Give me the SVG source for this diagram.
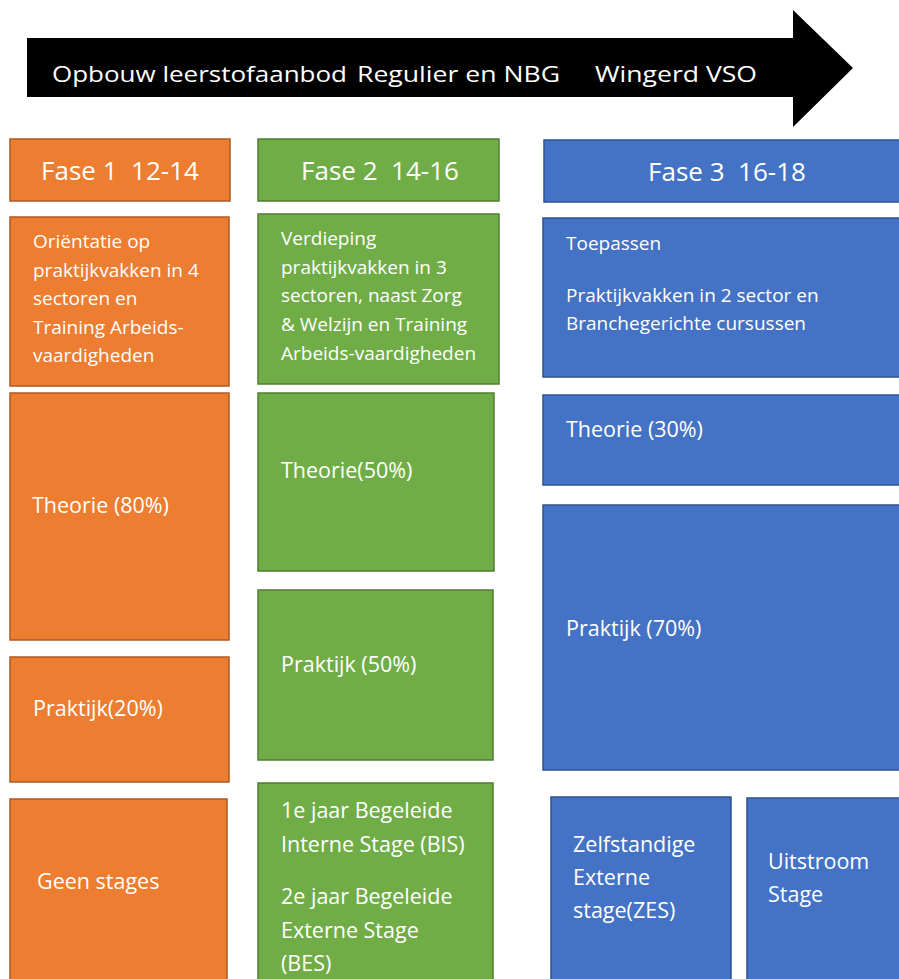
<svg xmlns="http://www.w3.org/2000/svg" width="899" height="979" viewBox="0 0 899 979">
<style>
text{font-family:"Open Sans","Liberation Sans",sans-serif;fill:#fff;white-space:pre}
.o{fill:#ED7D31;stroke:#AE5A21;stroke-width:1.5}
.g{fill:#70AD47;stroke:#507E32;stroke-width:1.5}
.b{fill:#4472C4;stroke:#2F528F;stroke-width:1.5}
.h{font-size:26px;text-anchor:middle}
.s{font-size:19px}
.m{font-size:21.5px}
.l{font-size:21.5px}
</style>
<rect width="899" height="979" fill="#fff"/>
<g id="arrow">
<polygon points="27,38 793,38 793,10 853,68 793,127 793,97 27,97" fill="#000"/>
<text x="52" y="82" font-size="22" textLength="295" lengthAdjust="spacingAndGlyphs">Opbouw leerstofaanbod</text>
<text x="357" y="82" font-size="22" textLength="203" lengthAdjust="spacingAndGlyphs">Regulier en NBG</text>
<text x="595" y="82" font-size="22" textLength="162" lengthAdjust="spacingAndGlyphs">Wingerd VSO</text>
</g>
<g id="fase1">
<rect class="o" x="10" y="139" width="220" height="62"/>
<text class="h" x="120" y="180" xml:space="preserve">Fase 1  12-14</text>
</g>
<g id="fase1-orientatie">
<rect class="o" x="10" y="217" width="219" height="169"/>
<text class="s" x="33" y="248">Oriëntatie op</text>
<text class="s" x="33" y="277">praktijkvakken in 4</text>
<text class="s" x="33" y="305">sectoren en</text>
<text class="s" x="33" y="334">Training Arbeids-</text>
<text class="s" x="33" y="362">vaardigheden</text>
</g>
<g id="fase1-theorie">
<rect class="o" x="10" y="393" width="219" height="247"/>
<text class="m" x="32" y="513">Theorie (80%)</text>
</g>
<g id="fase1-praktijk">
<rect class="o" x="10" y="657" width="219" height="125"/>
<text class="m" x="33" y="716">Praktijk(20%)</text>
</g>
<g id="fase1-stages">
<rect class="o" x="10" y="799" width="217" height="185"/>
<text class="m" x="37" y="889">Geen stages</text>
</g>
<g id="fase2">
<rect class="g" x="258" y="139" width="241" height="62"/>
<text class="h" x="380" y="180" xml:space="preserve">Fase 2  14-16</text>
</g>
<g id="fase2-verdieping">
<rect class="g" x="258" y="214" width="241" height="170"/>
<text class="s" x="281" y="245">Verdieping</text>
<text class="s" x="281" y="274">praktijkvakken in 3</text>
<text class="s" x="281" y="302">sectoren, naast Zorg</text>
<text class="s" x="281" y="331">&amp; Welzijn en Training</text>
<text class="s" x="281" y="360">Arbeids-vaardigheden</text>
</g>
<g id="fase2-theorie">
<rect class="g" x="258" y="393" width="236" height="178"/>
<text class="m" x="281" y="478">Theorie(50%)</text>
</g>
<g id="fase2-praktijk">
<rect class="g" x="258" y="590" width="235" height="170"/>
<text class="m" x="281" y="672">Praktijk (50%)</text>
</g>
<g id="fase2-stages">
<rect class="g" x="258" y="783" width="235" height="200"/>
<text class="l" x="281" y="818">1e jaar Begeleide</text>
<text class="l" x="281" y="852">Interne Stage (BIS)</text>
<text class="l" x="281" y="904">2e jaar Begeleide</text>
<text class="l" x="281" y="938">Externe Stage</text>
<text class="l" x="281" y="971">(BES)</text>
</g>
<g id="fase3">
<rect class="b" x="544" y="140" width="360" height="62"/>
<text class="h" x="727" y="181" xml:space="preserve">Fase 3  16-18</text>
</g>
<g id="fase3-toepassen">
<rect class="b" x="543" y="218" width="361" height="159"/>
<text class="s" x="566" y="250">Toepassen</text>
<text class="s" x="566" y="302">Praktijkvakken in 2 sector en</text>
<text class="s" x="566" y="330">Branchegerichte cursussen</text>
</g>
<g id="fase3-theorie">
<rect class="b" x="543" y="395" width="361" height="90"/>
<text class="m" x="566" y="437">Theorie (30%)</text>
</g>
<g id="fase3-praktijk">
<rect class="b" x="543" y="505" width="361" height="265"/>
<text class="m" x="566" y="636">Praktijk (70%)</text>
</g>
<g id="fase3-zes">
<rect class="b" x="551" y="797" width="180" height="187"/>
<text class="l" x="573" y="852">Zelfstandige</text>
<text class="l" x="573" y="885">Externe</text>
<text class="l" x="573" y="918">stage(ZES)</text>
</g>
<g id="fase3-uitstroom">
<rect class="b" x="747" y="798" width="157" height="186"/>
<text class="l" x="768" y="869">Uitstroom</text>
<text class="l" x="768" y="902">Stage</text>
</g>
</svg>
